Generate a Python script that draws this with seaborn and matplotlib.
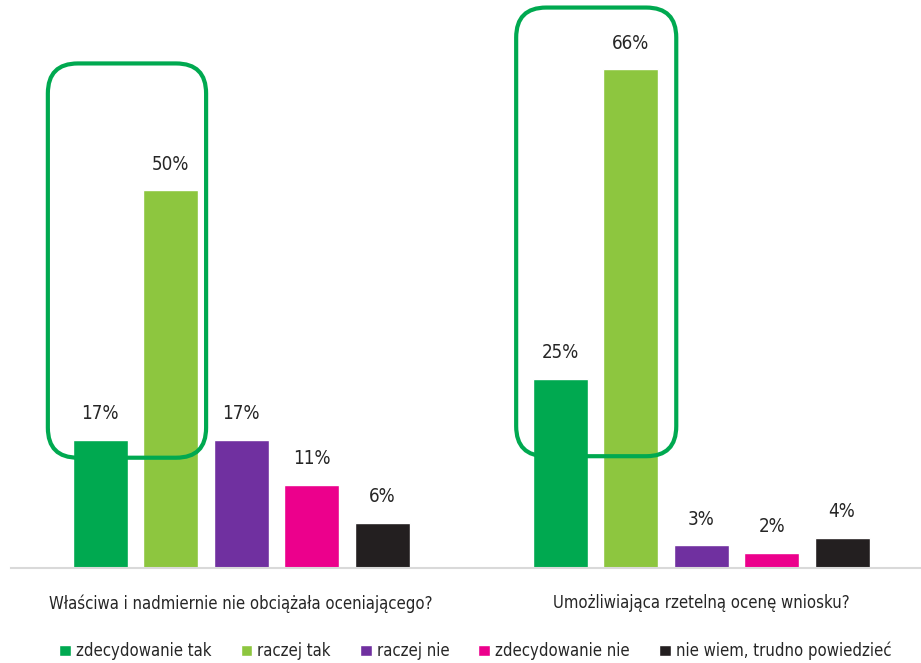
import pandas as pd
import matplotlib.pyplot as plt
import seaborn as sns
from matplotlib.patches import FancyBboxPatch
from matplotlib.transforms import IdentityTransform

sns.set_theme(style='white')
plt.rcParams['font.family'] = ['DejaVu Sans']
plt.rcParams['font.stretch'] = 'condensed'

# ----------------------------------------
# Data
# ----------------------------------------
questions = ["Właściwa i nadmiernie nie obciążała oceniającego?",
             "Umożliwiająca rzetelną ocenę wniosku?"]
answers = ["zdecydowanie tak", "raczej tak", "raczej nie",
           "zdecydowanie nie", "nie wiem, trudno powiedzieć"]
q1_values = [17, 50, 17, 11, 6]
q2_values = [25, 66, 3, 2, 4]
colors = ["#00A950", "#8DC63F", "#7030A0", "#EC008C", "#231F20"]

df = pd.DataFrame({
    "Question": [questions[0]] * 5 + [questions[1]] * 5,
    "Answer": answers * 2,
    "Value": q1_values + q2_values,
})

# ----------------------------------------
# Plot
# ----------------------------------------
fig = plt.figure(figsize=(9.21, 6.63), dpi=100)
ax = fig.add_axes([0.012, 0.1433, 0.988, 0.8567])

sns.barplot(data=df, x="Question", y="Value", hue="Answer",
            hue_order=answers, palette=colors, width=0.766, gap=0.22,
            saturation=1, ax=ax)

ax.set_xlim(-0.50, 1.478)
ax.set_ylim(0, 75.2)
ax.set_xlabel("")
ax.set_ylabel("")
ax.set_yticks([])
ax.tick_params(axis='x', length=0, pad=19, labelsize=12, labelcolor='#262626')
for s in ["top", "left", "right"]:
    ax.spines[s].set_visible(False)
ax.spines["bottom"].set_color("#d9d9d9")
ax.spines["bottom"].set_linewidth(1.5)

for cont in ax.containers:
    ax.bar_label(cont, labels=[f"{v:.0f}%" for v in cont.datavalues],
                 padding=12, fontsize=13.5, color='#262626')

# legend at the bottom
handles, labels = ax.get_legend_handles_labels()
ax.legend(handles, labels, loc='center', bbox_to_anchor=(0.516, 0.018),
          bbox_transform=fig.transFigure, ncol=5, frameon=False,
          fontsize=12, handlelength=0.7, handleheight=0.7,
          handletextpad=0.3, columnspacing=1.75, labelcolor='#262626')

# highlight boxes around the "tak" answers
boxes = [(-0.42, 14.6, -0.076, 66.8), (0.598, 14.8, 0.946, 74.2)]
for x0, y0, x1, y1 in boxes:
    (px0, py0), (px1, py1) = ax.transData.transform([(x0, y0), (x1, y1)])
    box = FancyBboxPatch((px0, py0), px1 - px0, py1 - py0,
                         boxstyle="round,pad=0,rounding_size=30",
                         fill=False, edgecolor="#00A950", linewidth=3,
                         transform=IdentityTransform(), clip_on=False)
    fig.add_artist(box)

plt.savefig("out.png", dpi=100)
